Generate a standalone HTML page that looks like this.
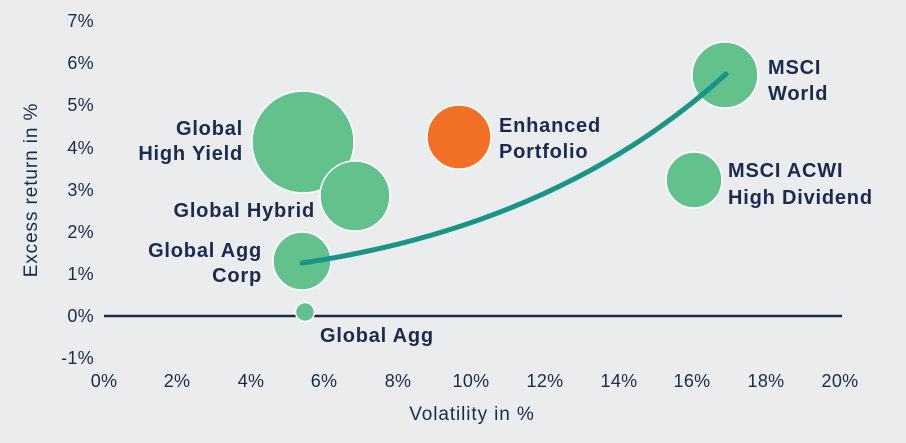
<!DOCTYPE html>
<html><head><style>
body{margin:0;background:#ebecee;}
svg{display:block;font-family:"Liberation Sans",sans-serif;}
.t{font-size:18px;fill:#1b2a4e;letter-spacing:0.3px;}
.a{font-size:19px;fill:#1b2a4e;letter-spacing:0.9px;}
.l{font-size:20px;font-weight:bold;fill:#1b2a4e;letter-spacing:0.8px;}
</style></head><body>
<svg width="906" height="443" viewBox="0 0 906 443">
<rect width="906" height="443" fill="#ebecee"/>
<g class="t" text-anchor="end">
<text x="94" y="27">7%</text><text x="94" y="69">6%</text><text x="94" y="111">5%</text>
<text x="94" y="154">4%</text><text x="94" y="196">3%</text><text x="94" y="238">2%</text>
<text x="94" y="280">1%</text><text x="94" y="322">0%</text><text x="94" y="364">-1%</text>
</g>
<g class="t" text-anchor="middle">
<text x="104" y="387">0%</text><text x="177" y="387">2%</text><text x="251" y="387">4%</text>
<text x="324" y="387">6%</text><text x="398" y="387">8%</text><text x="471" y="387">10%</text>
<text x="545" y="387">12%</text><text x="619" y="387">14%</text><text x="692" y="387">16%</text>
<text x="766" y="387">18%</text><text x="840" y="387">20%</text>
</g>
<g class="a" text-anchor="middle">
<text x="472" y="420">Volatility in %</text>
<text transform="translate(37,190) rotate(-90)">Excess return in %</text>
</g>
<line x1="104" y1="316" x2="842" y2="316" stroke="#1b2a4e" stroke-width="2.5"/>
<g fill="#63c18d" stroke="#fff" stroke-width="1.5">
<circle cx="303" cy="142" r="51"/>
<circle cx="355" cy="196" r="35"/>
<circle cx="302" cy="261" r="29"/>
<circle cx="305" cy="312" r="9.5"/>
<circle cx="725" cy="75" r="33"/>
<circle cx="694" cy="180" r="28"/>
<circle cx="459" cy="137" r="32" fill="#f26f26"/>
</g>
<path d="M302 263 Q560 225 726 74" fill="none" stroke="#1a9488" stroke-width="5" stroke-linecap="round"/>
<g class="l" text-anchor="end">
<text x="243" y="135">Global</text><text x="243" y="160">High Yield</text>
<text x="315" y="217">Global Hybrid</text>
<text x="262" y="257">Global Agg</text><text x="262" y="282">Corp</text>
</g>
<g class="l">
<text x="320" y="342">Global Agg</text>
<text x="499" y="132">Enhanced</text><text x="499" y="158">Portfolio</text>
<text x="768" y="74">MSCI</text><text x="768" y="100">World</text>
<text x="728" y="177">MSCI ACWI</text><text x="728" y="204">High Dividend</text>
</g>
</svg>
</body></html>
